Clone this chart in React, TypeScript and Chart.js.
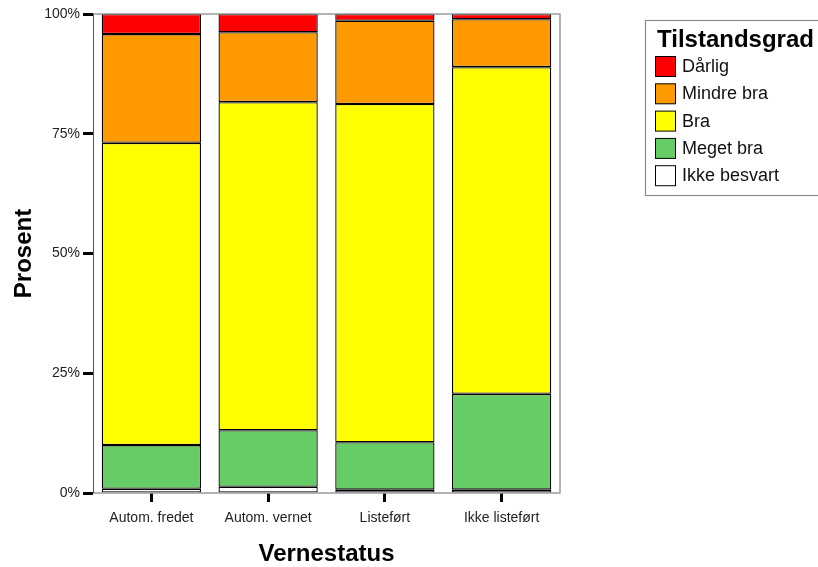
import React, { useEffect, useRef } from "react";
import { Chart, registerables } from "chart.js";

Chart.register(...registerables);

const categories = ["Autom. fredet", "Autom. vernet", "Listeført", "Ikke listeført"];
const ikkeBesvart = [0.9, 1.3, 0.7, 0.7];
const megetBra = [9.1, 11.8, 9.9, 20.0];
const bra = [63.1, 68.5, 70.6, 68.2];
const mindreBra = [22.7, 14.6, 17.4, 10.0];
const darlig = [4.2, 3.8, 1.4, 1.1];
const yTicks = [0, 25, 50, 75, 100];
const legendTitle = "Tilstandsgrad";
const xTitle = "Vernestatus";
const yTitle = "Prosent";

const FONT = "'Liberation Sans', Arial, sans-serif";

const framePlugin = {
  id: "frame",
  afterDraw(chart: any) {
    const { ctx, chartArea } = chart;
    ctx.save();
    ctx.strokeStyle = "#9a9a9a";
    ctx.lineWidth = 1.5;
    ctx.beginPath();
    ctx.moveTo(chartArea.left, chartArea.top);
    ctx.lineTo(chartArea.right, chartArea.top);
    ctx.lineTo(chartArea.right, chartArea.bottom);
    ctx.lineTo(chartArea.left, chartArea.bottom);
    ctx.stroke();
    ctx.strokeStyle = "#555";
    ctx.lineWidth = 1;
    ctx.beginPath();
    ctx.moveTo(chartArea.left + 0.5, chartArea.top);
    ctx.lineTo(chartArea.left + 0.5, chartArea.bottom);
    ctx.stroke();
    ctx.restore();
  },
};

const legendPlugin = {
  id: "customLegend",
  afterDraw(chart: any) {
    const { ctx } = chart;
    const bx = 645, by = 20, bw = 190, bh = 175;
    ctx.save();
    ctx.strokeStyle = "#8a8a8a";
    ctx.lineWidth = 1.2;
    ctx.strokeRect(bx + 0.5, by + 0.5, bw, bh);
    ctx.fillStyle = "#000";
    ctx.font = `bold 24px ${FONT}`;
    ctx.textBaseline = "alphabetic";
    ctx.fillText(legendTitle, 657, 47);
    const ds = chart.data.datasets.slice().reverse();
    ctx.font = `18px ${FONT}`;
    ds.forEach((d: any, i: number) => {
      const y = 56 + i * 27.3;
      ctx.fillStyle = d.backgroundColor;
      ctx.fillRect(655.5, y + 0.5, 20, 20);
      ctx.strokeStyle = "#000";
      ctx.lineWidth = 1;
      ctx.strokeRect(655.5, y + 0.5, 20, 20);
      ctx.fillStyle = "#111";
      ctx.textBaseline = "middle";
      ctx.fillText(d.label, 682, y + 11);
    });
    ctx.restore();
  },
};

export default function App() {
  const ref = useRef<HTMLCanvasElement>(null);
  useEffect(() => {
    document.body.style.margin = "0";
    const mk = (label: string, data: number[], color: string) => ({
      label,
      data,
      backgroundColor: color,
      borderColor: "#000",
      borderWidth: 1.3,
      borderSkipped: false,
      categoryPercentage: 1,
      barPercentage: 0.85,
    });
    const chart = new Chart(ref.current as HTMLCanvasElement, {
      type: "bar",
      data: {
        labels: categories,
        datasets: [
          mk("Ikke besvart", ikkeBesvart, "#ffffff"),
          mk("Meget bra", megetBra, "#66cc66"),
          mk("Bra", bra, "#ffff00"),
          mk("Mindre bra", mindreBra, "#ff9900"),
          mk("Dårlig", darlig, "#ff0000"),
        ],
      },
      options: {
        responsive: false,
        animation: false,
        devicePixelRatio: 1,
        layout: { padding: { top: 14, right: 258, left: 0, bottom: 0 } },
        plugins: { legend: { display: false }, tooltip: { enabled: false } },
        scales: {
          x: {
            stacked: true,
            offset: true,
            border: { display: false },
            grid: {
              offset: false,
              drawOnChartArea: false,
              drawTicks: true,
              tickLength: 9,
              tickWidth: 3,
              tickColor: "#000",
            },
            ticks: { font: { family: FONT, size: 14 }, color: "#222", padding: 8, maxRotation: 0 },
            title: {
              display: true,
              text: xTitle,
              font: { family: FONT, size: 24, weight: "bold" },
              color: "#000",
              padding: { top: 0, bottom: -2 },
            },
            afterFit: (s: any) => {
              s.height = 74;
            },
          },
          y: {
            stacked: true,
            min: 0,
            max: 100,
            afterBuildTicks: (s: any) => {
              s.ticks = yTicks.map((v) => ({ value: v }));
            },
            border: { display: false },
            grid: {
              drawOnChartArea: false,
              drawTicks: true,
              tickLength: 10,
              tickWidth: 3,
              tickColor: "#000",
            },
            ticks: {
              font: { family: FONT, size: 14 },
              color: "#222",
              padding: 3,
              callback: (v: any) => v + "%",
            },
            title: {
              display: true,
              text: yTitle,
              font: { family: FONT, size: 24, weight: "bold" },
              color: "#000",
              padding: { top: 10, bottom: 0 },
            },
            afterFit: (s: any) => {
              s.width = 93;
            },
          },
        },
      },
      plugins: [framePlugin, legendPlugin],
    });
    return () => chart.destroy();
  }, []);
  return (
    <div style={{ width: 818, height: 567, background: "#fff" }}>
      <canvas ref={ref} width={818} height={567} style={{ display: "block" }} />
    </div>
  );
}
